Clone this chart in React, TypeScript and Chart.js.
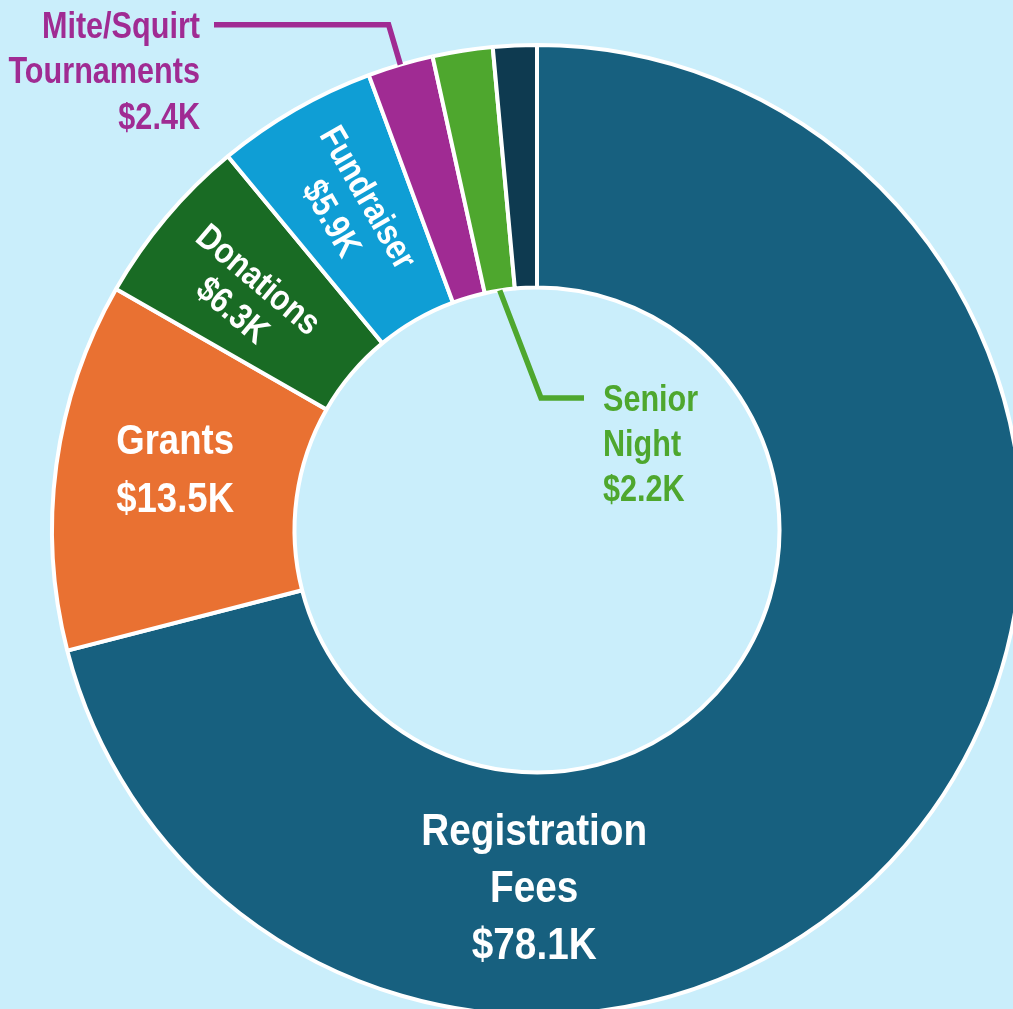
import React, { useEffect, useRef } from "react";
import { Chart, registerables } from "chart.js";

Chart.register(...registerables);

// ---- data ----
const categories = [
  "Registration Fees",
  "Grants",
  "Donations",
  "Fundraiser",
  "Mite/Squirt Tournaments",
  "Senior Night",
  "Other",
];
const labelLines: string[][] = [
  ["Registration", "Fees"],
  ["Grants"],
  ["Donations"],
  ["Fundraiser"],
  ["Mite/Squirt", "Tournaments"],
  ["Senior", "Night"],
  [],
];
const values = [78.1, 13.5, 6.3, 5.9, 2.4, 2.2, 1.6];
const colors = ["#17607F", "#E97132", "#196B24", "#0F9ED5", "#A02B93", "#4EA72E", "#0E3A50"];
const BG = "#CAEEFB";

const FONT = "'Liberation Sans Narrow', 'Arial Narrow', 'Liberation Sans', Arial, sans-serif";
const fmt = (v: number) => `$${v.toFixed(1)}K`;

// label placement (styles only)
type Place =
  | { kind: "flat"; angle: number; rf: number; size: number; lh: number; sx: number }
  | { kind: "radial"; dAngle: number; rf: number; size: number; lh: number; sx: number }
  | { kind: "calloutLeft"; elbowRf: number; endDx: number; gap: number; size: number; lh: number; sx: number }
  | { kind: "calloutInner"; elbowDx: number; elbowDy: number; endDx: number; gap: number; size: number; lh: number; sx: number }
  | null;

const placements: Place[] = [
  { kind: "flat", angle: 180.45, rf: 0.734, size: 44, lh: 57, sx: 0.88 },
  { kind: "flat", angle: 279.7, rf: 0.757, size: 42, lh: 57.5, sx: 0.87 },
  { kind: "radial", dAngle: -1, rf: 0.772, size: 36, lh: 40, sx: 0.85 },
  { kind: "radial", dAngle: 0, rf: 0.768, size: 36, lh: 42, sx: 0.85 },
  { kind: "calloutLeft", elbowRf: 1.086, endDx: -323, gap: 14, size: 36, lh: 45.5, sx: 0.85 },
  { kind: "calloutInner", elbowDx: 4, elbowDy: -132, endDx: 47, gap: 19, size: 36, lh: 45, sx: 0.85 },
  null,
];

const LEADER_W = 5.5;

const labelPlugin = {
  id: "sliceLabels",
  afterDatasetsDraw(chart: any) {
    const ctx: CanvasRenderingContext2D = chart.ctx;
    const meta = chart.getDatasetMeta(0);
    const arcs = meta.data as any[];
    if (!arcs.length) return;
    const cx = arcs[0].x;
    const cy = arcs[0].y;
    const R = arcs[0].outerRadius;
    const r = arcs[0].innerRadius;
    const pt = (deg: number, rad: number) => {
      const t = (deg * Math.PI) / 180;
      return [cx + rad * Math.sin(t), cy - rad * Math.cos(t)];
    };
    const midDeg = (i: number) =>
      (((arcs[i].startAngle + arcs[i].endAngle) / 2) * 180) / Math.PI + 90;

    const drawBlock = (
      lines: string[],
      x: number,
      y: number,
      size: number,
      lh: number,
      sx: number,
      color: string,
      align: CanvasTextAlign,
      firstAtY = false
    ) => {
      ctx.font = `bold ${size}px ${FONT}`;
      ctx.fillStyle = color;
      ctx.textAlign = align;
      ctx.textBaseline = "alphabetic";
      const n = lines.length;
      const cap = size * 0.358;
      lines.forEach((ln, k) => {
        const cyLine = firstAtY ? y + k * lh : y + (k - (n - 1) / 2) * lh;
        ctx.save();
        ctx.translate(x, cyLine + cap);
        ctx.scale(sx, 1);
        ctx.fillText(ln, 0, 0);
        ctx.restore();
      });
    };

    ctx.save();
    placements.forEach((p, i) => {
      if (!p) return;
      const lines = [...labelLines[i], fmt(values[i])];
      const col = colors[i];
      if (p.kind === "flat") {
        const [x, y] = pt(p.angle, R * p.rf);
        drawBlock(lines, x, y, p.size, p.lh, p.sx, "#FFFFFF", "center");
      } else if (p.kind === "radial") {
        const m = midDeg(i);
        const [x, y] = pt(m + p.dAngle, R * p.rf);
        ctx.save();
        ctx.translate(x, y);
        ctx.rotate(((m - 270) * Math.PI) / 180);
        drawBlock(lines, 0, 0, p.size, p.lh, p.sx, "#FFFFFF", "center");
        ctx.restore();
      } else if (p.kind === "calloutLeft") {
        const m = midDeg(i);
        const [x0, y0] = pt(m, R);
        const [x1, y1] = pt(m, R * p.elbowRf);
        const x2 = cx + p.endDx;
        ctx.beginPath();
        ctx.moveTo(x0, y0);
        ctx.lineTo(x1, y1);
        ctx.lineTo(x2, y1);
        ctx.strokeStyle = col;
        ctx.lineWidth = LEADER_W;
        ctx.lineJoin = "miter";
        ctx.stroke();
        drawBlock(lines, x2 - p.gap, y1, p.size, p.lh, p.sx, col, "right", true);
      } else if (p.kind === "calloutInner") {
        const m = midDeg(i);
        const [x0, y0] = pt(m, r);
        const x1 = cx + p.elbowDx;
        const y1 = cy + p.elbowDy;
        const x2 = cx + p.endDx;
        ctx.beginPath();
        ctx.moveTo(x0, y0);
        ctx.lineTo(x1, y1);
        ctx.lineTo(x2, y1);
        ctx.strokeStyle = col;
        ctx.lineWidth = LEADER_W;
        ctx.lineJoin = "miter";
        ctx.stroke();
        drawBlock(lines, x2 + p.gap, y1, p.size, p.lh, p.sx, col, "left", true);
      }
    });
    ctx.restore();
  },
};

export default function App() {
  const ref = useRef<HTMLCanvasElement>(null);
  useEffect(() => {
    if (!ref.current) return;
    const chart = new Chart(ref.current, {
      type: "doughnut",
      data: {
        labels: categories,
        datasets: [
          {
            data: values,
            backgroundColor: colors,
            borderColor: "#FFFFFF",
            borderWidth: 4,
            clip: false as any,
          },
        ],
      },
      options: {
        responsive: false,
        animation: false,
        cutout: "50%",
        radius: 485,
        rotation: 0,
        layout: { padding: { left: 61, right: 0, top: 51, bottom: 0 } },
        plugins: {
          legend: { display: false },
          tooltip: { enabled: false },
        },
      },
      plugins: [labelPlugin],
    });
    return () => chart.destroy();
  }, []);
  return (
    <div
      style={{
        position: "absolute",
        left: 0,
        top: 0,
        width: 1013,
        height: 1009,
        background: BG,
        overflow: "hidden",
      }}
    >
      <canvas ref={ref} width={1013} height={1009} style={{ display: "block", width: 1013, height: 1009 }} />
    </div>
  );
}
